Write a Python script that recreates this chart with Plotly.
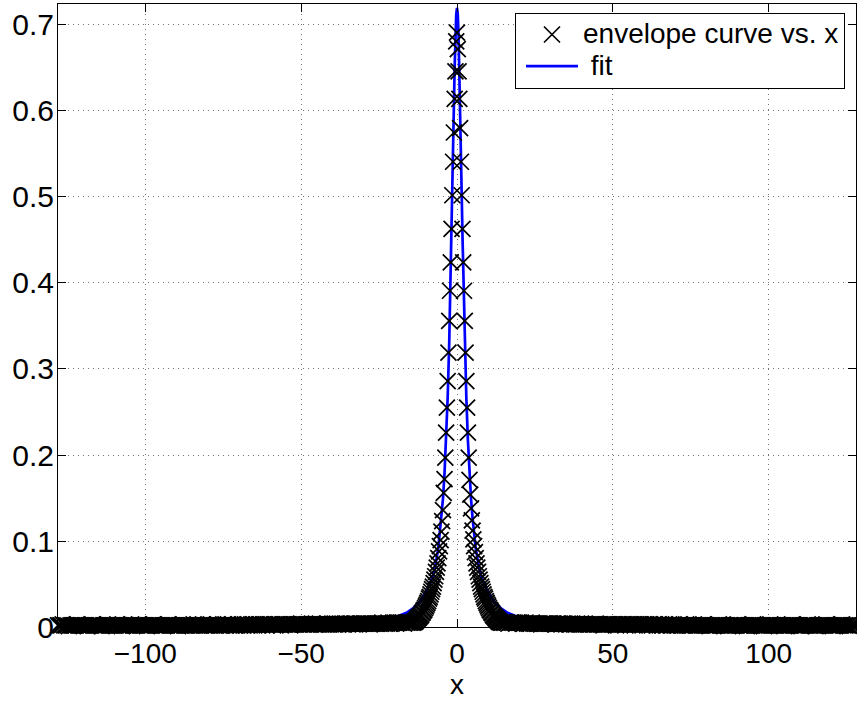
import numpy as np
import plotly.graph_objects as go

FONT = "Liberation Sans, Arial, Helvetica, sans-serif"
FS = 28

# ---------------- data: envelope samples ----------------
# sampling grids (x)
LEFT_TAIL_X = np.arange(-128.0, -14.25, 0.5)    # -128 ... -14.5
CORE_X = np.arange(-14.0, 14.125, 0.25)         # -14 ... 14
RIGHT_TAIL_X = np.arange(14.5, 128.25, 0.5)     # 14.5 ... 128

# left tail values, x = -128 ... -14.5 (step 0.5)
LEFT_TAIL_Y = [
    # x = -128 ... -60.5
    0.002, 0.002, 0.002, 0.003, 0.002, 0.002, 0.002, 0.001, 0.002, 0.002, 0.002, 0.002, 0.003, 0.002, 0.002, 0.002, 0.002,
    0.002, 0.002, 0.001, 0.002, 0.002, 0.003, 0.002, 0.002, 0.002, 0.002, 0.002, 0.001, 0.002, 0.002, 0.002, 0.003, 0.002,
    0.002, 0.002, 0.002, 0.002, 0.003, 0.002, 0.002, 0.001, 0.002, 0.002, 0.002, 0.002, 0.002, 0.003, 0.002, 0.002, 0.002,
    0.002, 0.003, 0.002, 0.002, 0.002, 0.002, 0.001, 0.002, 0.002, 0.002, 0.003, 0.002, 0.002, 0.002, 0.002, 0.002, 0.002,
    0.002, 0.002, 0.002, 0.003, 0.002, 0.002, 0.002, 0.002, 0.002, 0.001, 0.002, 0.002, 0.003, 0.002, 0.002, 0.002, 0.002,
    0.002, 0.002, 0.003, 0.002, 0.002, 0.002, 0.002, 0.002, 0.003, 0.002, 0.002, 0.002, 0.002, 0.003, 0.002, 0.002, 0.002,
    0.003, 0.002, 0.002, 0.002, 0.003, 0.002, 0.002, 0.003, 0.002, 0.002, 0.003, 0.002, 0.002, 0.002, 0.003, 0.002, 0.003,
    0.002, 0.003, 0.002, 0.003, 0.002, 0.003, 0.003, 0.002, 0.003, 0.002, 0.003, 0.003, 0.002, 0.003, 0.003, 0.002, 0.003,
    # x = -60 ... -30.5
    0.003, 0.003, 0.002, 0.003, 0.003, 0.003, 0.003, 0.002, 0.003, 0.003, 0.003, 0.003, 0.003, 0.002, 0.003,
    0.003, 0.003, 0.003, 0.003, 0.003, 0.004, 0.003, 0.003, 0.003, 0.003, 0.003, 0.003, 0.004, 0.003, 0.003,
    0.003, 0.003, 0.004, 0.003, 0.003, 0.003, 0.003, 0.004, 0.003, 0.003, 0.004, 0.003, 0.003, 0.004, 0.003,
    0.004, 0.003, 0.003, 0.004, 0.004, 0.003, 0.004, 0.004, 0.003, 0.004, 0.004, 0.004, 0.003, 0.004, 0.004,
    # x = -30 ... -20.5
    0.004, 0.004, 0.004, 0.004, 0.003, 0.004, 0.004, 0.004, 0.004, 0.004,
    0.004, 0.004, 0.005, 0.004, 0.004, 0.004, 0.005, 0.004, 0.004, 0.005,
    # x = -20 ... -14.5
    0.005, 0.004, 0.005, 0.005, 0.005, 0.005, 0.004, 0.005, 0.005, 0.005, 0.005, 0.005,
]

# core values, x = -14 ... 14 (step 0.25)
LEFT_CORE_Y = [
    0.005, 0.006, 0.006, 0.007, 0.008, 0.009, 0.010, 0.011,
    0.012, 0.013, 0.014, 0.016, 0.017, 0.019, 0.020, 0.022,
    0.024, 0.026, 0.028, 0.030, 0.033, 0.035, 0.038, 0.041,
    0.044, 0.047, 0.051, 0.055, 0.059, 0.064, 0.069, 0.074,
    0.080, 0.088, 0.094, 0.101, 0.111, 0.123, 0.136, 0.156,
    0.172, 0.197, 0.226, 0.255, 0.286, 0.319, 0.356, 0.391,
    0.424, 0.463, 0.502, 0.541, 0.575, 0.614, 0.646, 0.681,
]
PEAK_Y = [0.691]
RIGHT_CORE_Y = [
    0.672, 0.646, 0.614, 0.580, 0.541, 0.502, 0.463, 0.424,
    0.391, 0.356, 0.319, 0.286, 0.255, 0.226, 0.197, 0.171,
    0.154, 0.138, 0.124, 0.112, 0.102, 0.094, 0.087, 0.080,
    0.074, 0.069, 0.064, 0.059, 0.055, 0.051, 0.047, 0.044,
    0.041, 0.038, 0.035, 0.033, 0.030, 0.028, 0.026, 0.024,
    0.022, 0.020, 0.019, 0.017, 0.016, 0.014, 0.013, 0.012,
    0.011, 0.010, 0.009, 0.008, 0.007, 0.006, 0.006, 0.005,
]

# right tail values, x = 14.5 ... 128 (step 0.5)
RIGHT_TAIL_Y = [
    # x = 14.5 ... 20
    0.005, 0.005, 0.005, 0.005, 0.004, 0.005, 0.005, 0.005, 0.005, 0.004, 0.005, 0.005,
    # x = 20.5 ... 30
    0.005, 0.004, 0.004, 0.005, 0.004, 0.004, 0.004, 0.005, 0.004, 0.004,
    0.004, 0.004, 0.004, 0.003, 0.004, 0.004, 0.004, 0.004, 0.004, 0.004,
    # x = 30.5 ... 60
    0.004, 0.004, 0.003, 0.004, 0.004, 0.004, 0.003, 0.004, 0.004, 0.003, 0.004, 0.003, 0.003, 0.004, 0.003,
    0.003, 0.004, 0.003, 0.003, 0.003, 0.003, 0.004, 0.003, 0.003, 0.003, 0.003, 0.003, 0.003, 0.004, 0.003,
    0.003, 0.003, 0.003, 0.002, 0.003, 0.003, 0.003, 0.003, 0.003, 0.003, 0.003, 0.002, 0.003, 0.003, 0.003,
    0.003, 0.003, 0.002, 0.003, 0.003, 0.003, 0.003, 0.003, 0.002, 0.003, 0.003, 0.003, 0.003, 0.002, 0.003,
    # x = 60.5 ... 128
    0.003, 0.002, 0.003, 0.003, 0.002, 0.003, 0.003, 0.002, 0.003, 0.002, 0.003, 0.002, 0.003, 0.002, 0.002, 0.003, 0.002,
    0.002, 0.003, 0.002, 0.002, 0.002, 0.003, 0.002, 0.002, 0.002, 0.003, 0.002, 0.002, 0.002, 0.002, 0.003, 0.002, 0.002,
    0.002, 0.002, 0.002, 0.003, 0.002, 0.002, 0.002, 0.001, 0.002, 0.002, 0.002, 0.002, 0.002, 0.003, 0.002, 0.002, 0.002,
    0.002, 0.002, 0.001, 0.002, 0.002, 0.002, 0.002, 0.002, 0.003, 0.002, 0.002, 0.002, 0.002, 0.002, 0.001, 0.002, 0.002,
    0.002, 0.003, 0.002, 0.002, 0.002, 0.002, 0.002, 0.002, 0.001, 0.002, 0.002, 0.002, 0.003, 0.002, 0.002, 0.002, 0.002,
    0.002, 0.002, 0.002, 0.002, 0.001, 0.002, 0.002, 0.002, 0.002, 0.003, 0.002, 0.002, 0.002, 0.002, 0.002, 0.001, 0.002,
    0.002, 0.002, 0.003, 0.002, 0.002, 0.002, 0.002, 0.001, 0.002, 0.002, 0.002, 0.002, 0.002, 0.002, 0.003, 0.002, 0.002,
    0.002, 0.001, 0.002, 0.002, 0.002, 0.002, 0.002, 0.003, 0.002, 0.002, 0.002, 0.002, 0.001, 0.002, 0.002, 0.002, 0.002,
]

# ---------------- data: fitted curve ----------------
FIT_X = [-128, -100, -80, -64, -50, -40, -30, -25, -20, -16, -14, -12, -10, -8, -7, -6, -5,
         -4.5, -4, -3.5, -3, -2.5, -2, -1.75, -1.5, -1.25, -1, -0.75, -0.5, -0.25,
         0,
         0.25, 0.5, 0.75, 1, 1.25, 1.5, 1.75, 2, 2.5, 3, 3.5, 4, 4.5,
         5, 6, 7, 8, 10, 12, 14, 16, 20, 25, 30, 40, 50, 64, 80, 100, 128]
FIT_Y = [0.0002, 0.0004, 0.0006, 0.0009, 0.0015, 0.0025, 0.004, 0.006, 0.011, 0.017, 0.022, 0.029, 0.040, 0.056, 0.070, 0.092, 0.126,
         0.149, 0.179, 0.217, 0.266, 0.330, 0.410, 0.456, 0.505, 0.556, 0.605, 0.651, 0.688, 0.712,
         0.720,
         0.712, 0.688, 0.651, 0.605, 0.556, 0.505, 0.456, 0.410, 0.330, 0.266, 0.217, 0.179, 0.149,
         0.126, 0.092, 0.070, 0.056, 0.040, 0.029, 0.022, 0.017, 0.011, 0.006, 0.004, 0.0025, 0.0015, 0.0009, 0.0006, 0.0004, 0.0002]

X_TICKS = [-100, -50, 0, 50, 100]
X_TICK_TEXT = ["\u2212100", "\u221250", "0", "50", "100"]
Y_TICKS = [0, 0.1, 0.2, 0.3, 0.4, 0.5, 0.6, 0.7]
Y_TICK_TEXT = ["0", "0.1", "0.2", "0.3", "0.4", "0.5", "0.6", "0.7"]

LEGEND_DATA = "envelope curve vs. x"
LEGEND_FIT = "\u00a0fit"

env_x = np.concatenate([LEFT_TAIL_X, CORE_X, RIGHT_TAIL_X])
env_y = np.array(LEFT_TAIL_Y + LEFT_CORE_Y + PEAK_Y + RIGHT_CORE_Y + RIGHT_TAIL_Y)


def big(txt):
    return '<span style="font-size:%dpx">%s</span>' % (FS, txt)


fig = go.Figure()
fig.add_trace(go.Scatter(
    x=FIT_X, y=FIT_Y, mode="lines", name=big(LEGEND_FIT),
    line=dict(color="#0000ff", width=2.7),
    cliponaxis=False,
))
fig.add_trace(go.Scatter(
    x=env_x, y=env_y, mode="markers", name=big(LEGEND_DATA),
    marker=dict(symbol="x-thin", size=16, color="black",
                line=dict(color="black", width=1.7)),
    cliponaxis=False,
))

axis_common = dict(
    showline=True, linecolor="black", linewidth=1, mirror="ticks",
    ticks="inside", ticklen=8, tickwidth=1, tickcolor="black",
    showgrid=True, gridcolor="rgba(0,0,0,0.55)", gridwidth=1, griddash="1px,4px",
    zeroline=False, automargin=False,
)

fig.update_xaxes(range=[-128, 128], tickvals=X_TICKS, ticktext=X_TICK_TEXT,
                 tickfont=dict(family=FONT, size=FS, color="black"),
                 title=dict(text="x", font=dict(family=FONT, size=FS, color="black"), standoff=0),
                 ticklabelstandoff=1, **axis_common)
fig.update_yaxes(range=[0, 0.7244], tickvals=Y_TICKS, ticktext=Y_TICK_TEXT,
                 tickfont=dict(family=FONT, size=30, color="black"),
                 ticklabelstandoff=-3, **axis_common)

fig.update_layout(
    width=857, height=704,
    margin=dict(l=58, r=1, t=4, b=77, pad=0),
    paper_bgcolor="white", plot_bgcolor="white",
    font=dict(family=FONT, size=FS, color="black"),
    showlegend=True,
    legend=dict(
        x=0.9862, y=0.986, xanchor="right", yanchor="top",
        bgcolor="white", bordercolor="black", borderwidth=1,
        font=dict(family=FONT, size=22, color="black"),
        traceorder="reversed", itemwidth=52, indentation=5,
    ),
)

fig.write_html(
    "out.html",
    config={"displayModeBar": False},
    post_script="document.body.style.margin='0';document.body.style.padding='0';",
)
